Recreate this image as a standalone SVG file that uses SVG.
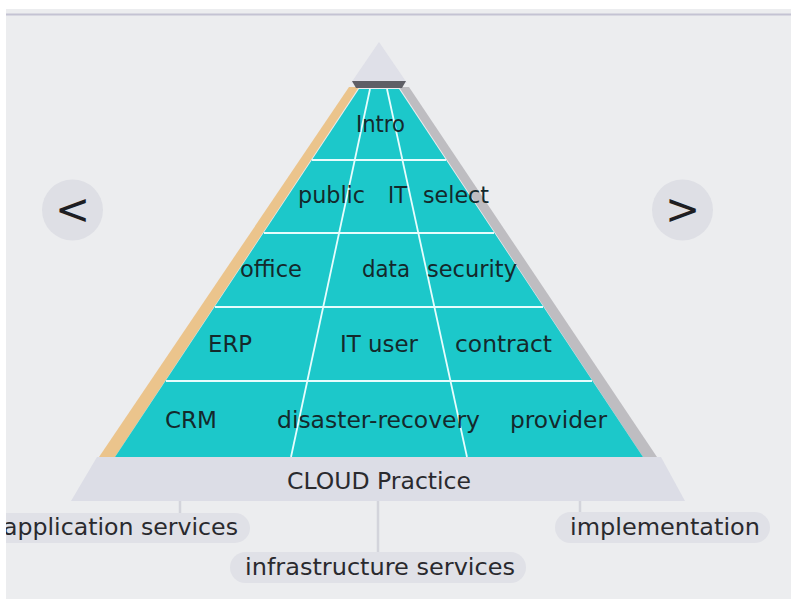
<svg xmlns="http://www.w3.org/2000/svg" width="791" height="599" viewBox="0 0 791 599">
<style>
.t{font-family:"DejaVu Sans","Liberation Sans",sans-serif;font-size:23px;fill:#14292c}
.b{font-family:"DejaVu Sans","Liberation Sans",sans-serif;font-size:23px;fill:#2a2a2e}
.pill{fill:#e0e1e7}
.conn{stroke:#d3d4db;stroke-width:2.5;fill:none}
.row{stroke:#e6fdfd;stroke-width:1.8;fill:none}
.nav{fill:#dedfe5}
.navt{font-family:"DejaVu Sans","Liberation Sans",sans-serif;font-size:42px;fill:#1e1e22}
</style>
<rect x="0" y="0" width="791" height="599" fill="#ecedef"/>
<line x1="0" y1="14.5" x2="791" y2="14.5" stroke="#c4c3d3" stroke-width="2"/>

<g id="pyramid">
  <polygon points="379,42 351,83 407,83" fill="#dfe0e8"/>
  <polygon points="349,87 359,87 115,457 99,457" fill="#ebc48c"/>
  <polygon points="399,87 409,87 657,457 643,457" fill="#bebdc1"/>
  <polygon points="359,89 399,89 643,457 115,457" fill="#1cc8ca"/>
  <polygon points="352,81 406,81 402,88 356,88" fill="#5f5f66"/>
  <line class="row" x1="312" y1="160" x2="446" y2="160"/>
  <line class="row" x1="264" y1="233" x2="494" y2="233"/>
  <line class="row" x1="215" y1="307" x2="543" y2="307"/>
  <line class="row" x1="166" y1="381" x2="592" y2="381"/>
  <line class="row" x1="370" y1="89" x2="291" y2="457"/>
  <line class="row" x1="387" y1="89" x2="467" y2="457"/>
</g>

<g id="row1"><text class="t" x="356" y="132" textLength="49" lengthAdjust="spacingAndGlyphs">Intro</text></g>
<g id="row2">
  <text class="t" x="298" y="203" textLength="67" lengthAdjust="spacingAndGlyphs">public</text>
  <text class="t" x="388" y="203" textLength="19" lengthAdjust="spacingAndGlyphs">IT</text>
  <text class="t" x="423" y="203" textLength="66" lengthAdjust="spacingAndGlyphs">select</text>
</g>
<g id="row3">
  <text class="t" x="240" y="277" textLength="62" lengthAdjust="spacingAndGlyphs">office</text>
  <text class="t" x="362" y="277" textLength="48" lengthAdjust="spacingAndGlyphs">data</text>
  <text class="t" x="427" y="277" textLength="90" lengthAdjust="spacingAndGlyphs">security</text>
</g>
<g id="row4">
  <text class="t" x="208" y="352" textLength="44" lengthAdjust="spacingAndGlyphs">ERP</text>
  <text class="t" x="340" y="352" textLength="78" lengthAdjust="spacingAndGlyphs">IT user</text>
  <text class="t" x="455" y="352" textLength="97" lengthAdjust="spacingAndGlyphs">contract</text>
</g>
<g id="row5">
  <text class="t" x="165" y="428" textLength="52" lengthAdjust="spacingAndGlyphs">CRM</text>
  <text class="t" x="277" y="428" textLength="203" lengthAdjust="spacingAndGlyphs">disaster-recovery</text>
  <text class="t" x="510" y="428" textLength="97" lengthAdjust="spacingAndGlyphs">provider</text>
</g>

<g id="cloud-practice">
  <polygon points="97,457 661,457 685,501 71,501" fill="#dcdde6"/>
  <text class="b" x="287" y="489" textLength="184" lengthAdjust="spacingAndGlyphs">CLOUD Practice</text>
</g>

<g id="connectors">
  <line class="conn" x1="180" y1="501" x2="180" y2="513"/>
  <line class="conn" x1="378" y1="501" x2="378" y2="552"/>
  <line class="conn" x1="580" y1="501" x2="580" y2="512"/>
</g>

<g id="application-services">
  <rect class="pill" x="-20" y="513" width="270" height="30" rx="15"/>
  <text class="b" x="3" y="535" textLength="235" lengthAdjust="spacingAndGlyphs">application services</text>
</g>
<g id="infrastructure-services">
  <rect class="pill" x="230" y="552" width="296" height="31" rx="15.5"/>
  <text class="b" x="245" y="575" textLength="270" lengthAdjust="spacingAndGlyphs">infrastructure services</text>
</g>
<g id="implementation">
  <rect class="pill" x="555" y="512" width="215" height="31" rx="15.5"/>
  <text class="b" x="570" y="535" textLength="190" lengthAdjust="spacingAndGlyphs">implementation</text>
</g>

<g id="nav-prev">
  <circle class="nav" cx="72.5" cy="210" r="30.5"/>
  <text class="navt" x="72.5" y="224" text-anchor="middle">&lt;</text>
</g>
<g id="nav-next">
  <circle class="nav" cx="682.5" cy="210" r="30.5"/>
  <text class="navt" x="682.5" y="224" text-anchor="middle">&gt;</text>
</g>

<rect x="0" y="0" width="791" height="9" fill="#ffffff"/>
<rect x="0" y="0" width="6" height="599" fill="#ffffff"/>
</svg>
